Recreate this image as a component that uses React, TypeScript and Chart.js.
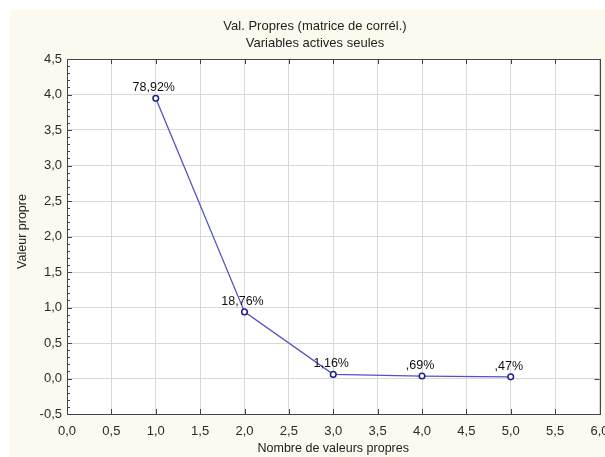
import React, { useEffect, useRef } from "react";
import { Chart, registerables } from "chart.js";

Chart.register(...registerables);

const components = [1, 2, 3, 4, 5];
const eigenvalues = [3.946, 0.938, 0.058, 0.0345, 0.0235];
const pctLabels = ["78,92%", "18,76%", "1,16%", ",69%", ",47%"];
const titleLines = ["Val. Propres (matrice de corrél.)", "Variables actives seules"];
const xTitle = "Nombre de valeurs propres";
const yTitle = "Valeur propre";

const FONT = "'Liberation Sans', Arial, sans-serif";
const fmt = (v: any) => Number(v).toFixed(1).replace(".", ",");

const decor = {
  id: "decor",
  beforeDraw(chart: any) {
    const { ctx, chartArea: a, width, height } = chart;
    ctx.save();
    ctx.fillStyle = "#fcf9ef";
    ctx.fillRect(0, 0, width, height);
    ctx.fillStyle = "#ffffff";
    ctx.fillRect(a.left, a.top, a.right - a.left, a.bottom - a.top);
    ctx.restore();
  },
  afterDraw(chart: any) {
    const { ctx, chartArea: a, scales } = chart;
    const xs = scales.x;
    const ys = scales.y;
    ctx.save();
    ctx.strokeStyle = "#444";
    ctx.lineWidth = 1;
    ctx.strokeRect(Math.round(a.left) + 0.5, Math.round(a.top) + 0.5, Math.round(a.right - a.left), Math.round(a.bottom - a.top));
    ctx.beginPath();
    for (let v = 0; v <= 6.0001; v += 0.5) {
      const px = Math.round(xs.getPixelForValue(v)) + 0.5;
      ctx.moveTo(px, a.top);
      ctx.lineTo(px, a.top + 5);
      ctx.moveTo(px, a.bottom);
      ctx.lineTo(px, a.bottom - 5);
    }
    for (let i = -5; i <= 45; i++) {
      const v = i / 10;
      const py = Math.round(ys.getPixelForValue(v)) + 0.5;
      const major = i % 5 === 0;
      ctx.moveTo(a.left, py);
      ctx.lineTo(a.left + (major ? 5 : 3), py);
      if (major) {
        ctx.moveTo(a.right, py);
        ctx.lineTo(a.right - 5, py);
      }
    }
    ctx.stroke();
    ctx.fillStyle = "#222";
    ctx.font = `13px ${FONT}`;
    ctx.textAlign = "center";
    ctx.textBaseline = "middle";
    const cx = (a.left + a.right) / 2;
    ctx.fillText(titleLines[0], 305, 16);
    ctx.fillText(titleLines[1], 305, 33);
    ctx.font = `12.5px ${FONT}`;
    ctx.fillText(xTitle, cx, 439);
    ctx.save();
    ctx.translate(13, (a.top + a.bottom) / 2 - 5);
    ctx.rotate(-Math.PI / 2);
    ctx.fillText(yTitle, 0, 0);
    ctx.restore();
    ctx.font = `12.5px ${FONT}`;
    ctx.fillStyle = "#111";
    ctx.textBaseline = "alphabetic";
    const meta = chart.getDatasetMeta(0);
    meta.data.forEach((pt: any, i: number) => {
      ctx.fillText(pctLabels[i], pt.x - 2, pt.y - 7);
    });
    ctx.restore();
  },
};

export default function App() {
  const ref = useRef<HTMLCanvasElement>(null);
  useEffect(() => {
    if (!ref.current) return;
    const chart = new Chart(ref.current, {
      type: "scatter",
      data: {
        datasets: [
          {
            data: components.map((c, i) => ({ x: c, y: eigenvalues[i] })),
            showLine: true,
            borderColor: "#5252c4",
            borderWidth: 1.3,
            pointRadius: 2.8,
            pointBorderWidth: 1.5,
            pointBorderColor: "#1e1e90",
            pointBackgroundColor: "#ffffff",
          },
        ],
      },
      plugins: [decor],
      options: {
        animation: false,
        responsive: false,
        devicePixelRatio: 1,
        layout: { padding: { left: 0, right: 4, top: 49, bottom: 0 } },
        plugins: { legend: { display: false }, title: { display: false }, tooltip: { enabled: false } },
        scales: {
          x: {
            type: "linear",
            min: 0,
            max: 6,
            border: { display: false },
            grid: { color: "#d8d8d8", drawTicks: false, tickLength: 0 },
            ticks: { stepSize: 0.5, callback: fmt, color: "#2a2a2a", font: { family: FONT, size: 13 }, padding: 10, maxRotation: 0, autoSkip: false },
            afterFit: (s: any) => {
              s.height = 43;
              s.paddingLeft = 0;
              s.paddingRight = 0;
            },
          },
          y: {
            type: "linear",
            min: -0.5,
            max: 4.5,
            border: { display: false },
            grid: { color: "#d8d8d8", drawTicks: false, tickLength: 0 },
            ticks: { stepSize: 0.5, callback: fmt, color: "#2a2a2a", font: { family: FONT, size: 13 }, padding: 5, autoSkip: false },
            afterFit: (s: any) => {
              s.width = 57;
              s.paddingTop = 0;
              s.paddingBottom = 0;
            },
          },
        },
      },
    });
    return () => chart.destroy();
  }, []);
  return (
    <canvas
      ref={ref}
      width={595}
      height={447}
      style={{ display: "block", position: "fixed", left: 10, top: 10, width: 595, height: 447 }}
    />
  );
}
